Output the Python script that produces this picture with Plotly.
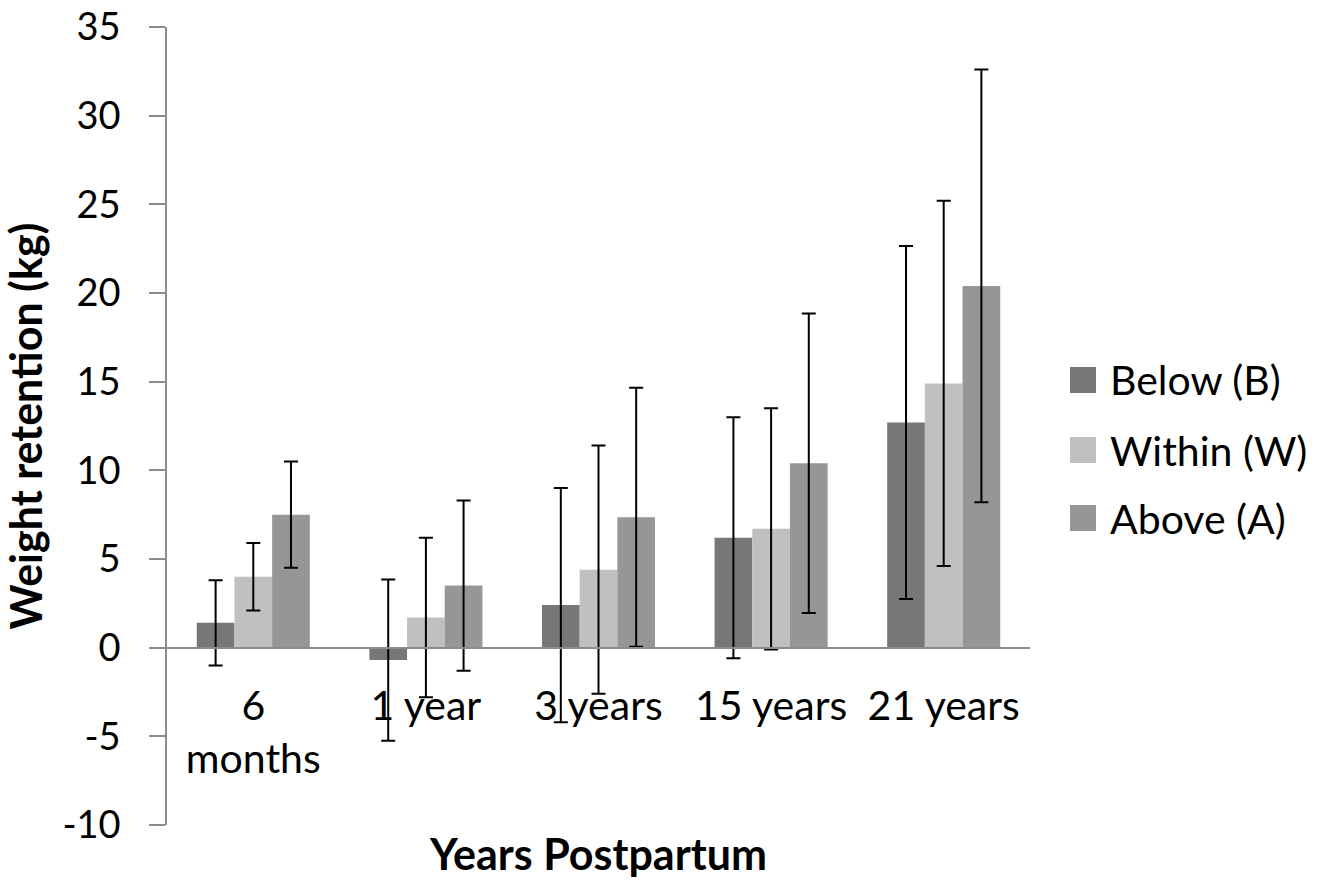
import plotly.graph_objects as go

categories = ["6<br>months", "1 year", "3 years", "15 years", "21 years"]
series_names = ["Below (B)", "Within (W)", "Above (A)"]
below_vals = [1.4, -0.7, 2.4, 6.2, 12.7]
below_err = [2.4, 4.55, 6.6, 6.8, 9.95]
within_vals = [4.0, 1.7, 4.4, 6.7, 14.9]
within_err = [1.9, 4.5, 7.0, 6.8, 10.3]
above_vals = [7.5, 3.5, 7.35, 10.4, 20.4]
above_err = [3.0, 4.8, 7.3, 8.45, 12.2]
colors = ["#777777", "#c0c0c0", "#969696"]
y_ticks = [-10, -5, 0, 5, 10, 15, 20, 25, 30, 35]
y_tick_labels = ["-10", "-5", "0", "5", "10", "15", "20", "25", "30", "35"]

W, H = 1335, 881
L, R, T, B = 167, 305, 27, 56
FONT = "Lato, Calibri, sans-serif"

def px_x(p):
    return (p - L) / (W - L - R)

def px_y(p):
    return 1 - (p - T) / (H - T - B)

fig = go.Figure()
for name, vals, errs, col in zip(series_names,
                                 [below_vals, within_vals, above_vals],
                                 [below_err, within_err, above_err],
                                 colors):
    fig.add_trace(go.Bar(
        x=categories, y=vals, name=name, marker_color=col,
        marker_line_width=0,
        error_y=dict(type="data", array=errs, visible=True,
                     color="black", thickness=2, width=7),
        showlegend=False,
    ))

ymin, ymax = y_ticks[0], y_ticks[-1]
fig.update_layout(
    width=W, height=H,
    margin=dict(l=L, r=R, t=T, b=B, autoexpand=False),
    plot_bgcolor="white", paper_bgcolor="white",
    barmode="group", bargap=0.345, bargroupgap=0,
    font=dict(family=FONT, size=40, color="black"),
    xaxis=dict(
        anchor="free", position=(0 - ymin) / (ymax - ymin),
        automargin=False,
        showline=True, linecolor="#8c8c8c", linewidth=1.5,
        ticks="", showgrid=False, zeroline=False,
        tickfont=dict(size=41), ticklabelstandoff=22,
        title=dict(text="<b>Years Postpartum</b>", font=dict(size=43), standoff=58),
    ),
    yaxis=dict(
        range=[ymin, ymax], tickvals=y_ticks, ticktext=y_tick_labels,
        automargin=False,
        showline=True, linecolor="#8c8c8c", linewidth=1.5,
        ticks="outside", ticklen=16, tickcolor="#8c8c8c", tickwidth=1.5,
        showgrid=False, zeroline=False,
        tickfont=dict(size=38), ticklabelstandoff=21,
        title=dict(text="<b>Weight retention (kg)</b>", font=dict(size=43), standoff=12),
    ),
)

# legend drawn as swatches + labels
leg_rows = [380, 450, 518]
for name, col, yc in zip(series_names, colors, leg_rows):
    fig.add_shape(type="rect", xref="paper", yref="paper",
                  x0=px_x(1070), x1=px_x(1096), y0=px_y(yc + 13), y1=px_y(yc - 13),
                  fillcolor=col, line_width=0)
    fig.add_annotation(text=name, xref="paper", yref="paper",
                       x=px_x(1108), y=px_y(yc), xanchor="left", yanchor="middle",
                       showarrow=False, font=dict(size=41))

fig.write_html("out.html")
